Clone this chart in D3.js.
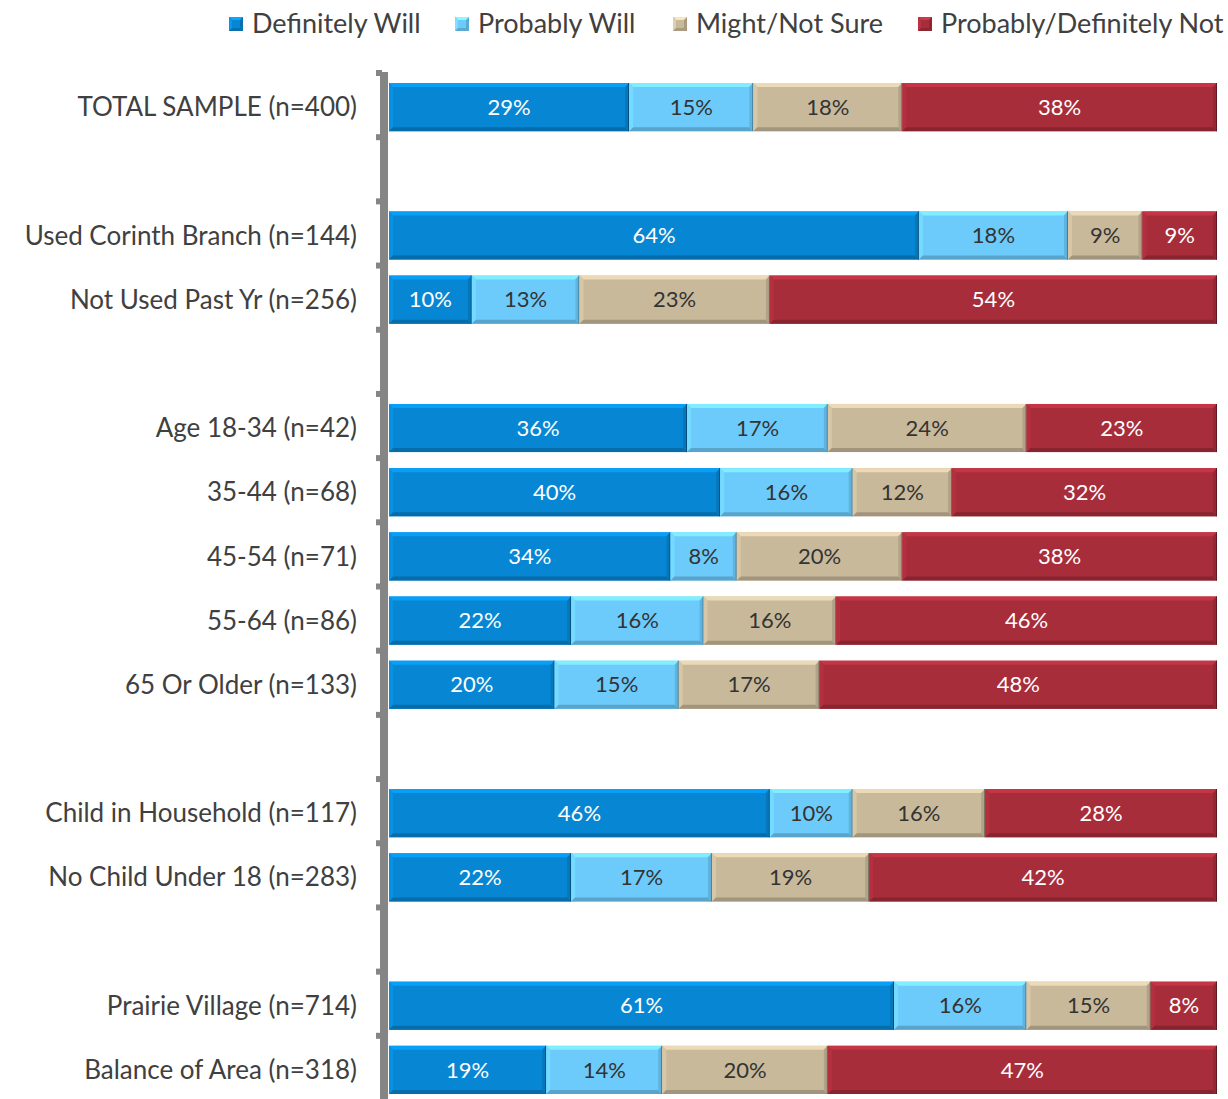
<!DOCTYPE html>
<html><head><meta charset="utf-8">
<script src="https://cdn.jsdelivr.net/npm/d3@7"></script>
<style>body{margin:0;background:#fff}svg{display:block}</style>
</head><body>
<svg id="c" width="1228" height="1099"></svg>
<script>
const categories = ["TOTAL SAMPLE (n=400)","","Used Corinth Branch (n=144)","Not Used Past Yr (n=256)","",
 "Age 18-34 (n=42)","35-44 (n=68)","45-54 (n=71)","55-64 (n=86)","65 Or Older (n=133)","",
 "Child in Household (n=117)","No Child Under 18 (n=283)","","Prairie Village (n=714)","Balance of Area (n=318)"];
const seriesNames = ["Definitely Will","Probably Will","Might/Not Sure","Probably/Definitely Not"];
const definitelyWill = [29,null,64,10,null,36,40,34,22,20,null,46,22,null,61,19];
const probablyWill   = [15,null,18,13,null,17,16,8,16,15,null,10,17,null,16,14];
const mightNotSure   = [18,null,9,23,null,24,12,20,16,17,null,16,19,null,15,20];
const probDefNot     = [38,null,9,54,null,23,32,38,46,48,null,28,42,null,8,47];
const colors = ["#0787D3","#6DCBFB","#C9B99B","#A82D3B"];
const textColors = ["#ffffff","#333333","#333333","#ffffff"];
const FONT = "Lato, 'Open Sans', sans-serif";

const svg = d3.select("#c");
const keys = categories.map((c,i)=>i);
const y = d3.scaleBand().domain(keys).range([75,1102]).paddingInner(0.25).paddingOuter(0.125);
const x = d3.scaleLinear().domain([0,100]).range([389,1217]);

const series = [definitelyWill,probablyWill,mightNotSure,probDefNot];
const rows = keys.filter(i=>definitelyWill[i]!=null).map(i=>{
  let acc=0; const segs=[];
  series.forEach((s,k)=>{segs.push({k, v:s[i], x0:acc, x1:acc+s[i]}); acc+=s[i];});
  return {i, segs};
});

function bevel(g, x0, y0, w, h, col){
  const c = d3.color(col);
  const e = 4;
  g.append("rect").attr("x",x0).attr("y",y0).attr("width",w).attr("height",h).attr("fill",col);
  g.append("polygon").attr("points",[[x0,y0],[x0+w,y0],[x0+w-e,y0+e],[x0+e,y0+e]].join(" "))
    .attr("fill",c.brighter(0.45));
  g.append("polygon").attr("points",[[x0,y0],[x0+e,y0+e],[x0+e,y0+h-e],[x0,y0+h]].join(" "))
    .attr("fill",c.brighter(0.2));
  g.append("polygon").attr("points",[[x0,y0+h],[x0+w,y0+h],[x0+w-e,y0+h-e],[x0+e,y0+h-e]].join(" "))
    .attr("fill",c.darker(0.6));
  g.append("polygon").attr("points",[[x0+w,y0],[x0+w,y0+h],[x0+w-e,y0+h-e],[x0+w-e,y0+e]].join(" "))
    .attr("fill",c.darker(0.35));
  g.append("line").attr("x1",x0+w-0.5).attr("x2",x0+w-0.5).attr("y1",y0).attr("y2",y0+h)
    .attr("stroke",c.darker(1.6)).attr("stroke-width",1);
}

const bars = svg.append("g");
rows.forEach(r=>{
  r.segs.forEach(s=>{
    const g = bars.append("g");
    const x0 = x(s.x0), w = x(s.x1)-x(s.x0);
    bevel(g, x0, y(r.i), w, y.bandwidth(), colors[s.k]);
    g.append("text").attr("x",x0+w/2).attr("y",y(r.i)+y.bandwidth()/2)
      .attr("dy","0.35em").attr("text-anchor","middle")
      .attr("font-family",FONT).attr("font-size",22).attr("fill",textColors[s.k])
      .text(s.v+"%");
  });
});

// axis
const step = y.step();
const axisTop = y(0) - step*y.paddingInner()/2 - 3;
const axisBottom = 1099;
svg.append("rect").attr("x",380).attr("y",axisTop).attr("width",8).attr("height",axisBottom-axisTop).attr("fill","#858585");
const boundaries = keys.map(i=>y(i) - step*y.paddingInner()/2 - 2);
svg.append("g").selectAll("rect").data(boundaries).join("rect")
  .attr("x",376).attr("y",d=>d-3).attr("width",6).attr("height",6).attr("fill","#858585");

// category labels
svg.append("g").selectAll("text").data(keys.filter(i=>categories[i]!==""))
  .join("text").attr("x",357).attr("y",i=>y(i)+y.bandwidth()/2).attr("dy","0.35em")
  .attr("text-anchor","end").attr("font-family",FONT).attr("font-size",26).attr("fill","#404040")
  .text(i=>categories[i]);

// legend
const legX = [229,455,673,918];
const lg = svg.append("g");
seriesNames.forEach((n,k)=>{
  const g = lg.append("g");
  const c = d3.color(colors[k]);
  const s=14, x0=legX[k], y0=17, e=3;
  g.append("rect").attr("x",x0).attr("y",y0).attr("width",s).attr("height",s).attr("fill",c.darker(0.5));
  g.append("polygon").attr("points",[[x0,y0],[x0+s,y0],[x0+s-e,y0+e],[x0+e,y0+e]].join(" ")).attr("fill",c.brighter(0.6));
  g.append("polygon").attr("points",[[x0,y0],[x0+e,y0+e],[x0+e,y0+s-e],[x0,y0+s]].join(" ")).attr("fill",c.brighter(0.3));
  g.append("rect").attr("x",x0+e).attr("y",y0+e).attr("width",s-2*e).attr("height",s-2*e).attr("fill",colors[k]);
  g.append("text").attr("x",x0+23).attr("y",y0+s/2).attr("dy","0.35em")
    .attr("font-family",FONT).attr("font-size",27).attr("fill","#404040").text(n);
});
</script>
</body></html>
